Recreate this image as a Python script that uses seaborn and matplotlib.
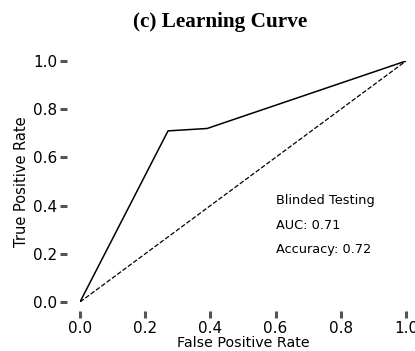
import matplotlib
matplotlib.use("Agg")
import matplotlib.pyplot as plt
import seaborn as sns
import pandas as pd

fpr = [0.0, 0.27, 0.39, 1.0]
tpr = [0.0, 0.71, 0.72, 1.0]
chance = [0.0, 1.0]
ticks = [0.0, 0.2, 0.4, 0.6, 0.8, 1.0]
notes = ["Blinded Testing", "AUC: 0.71", "Accuracy: 0.72"]

sns.set_style("white")
plt.rcParams['font.family'] = ['DejaVu Sans']
plt.rcParams['text.color'] = 'black'
plt.rcParams['axes.labelcolor'] = 'black'
plt.rcParams['xtick.labelcolor'] = 'black'
plt.rcParams['ytick.labelcolor'] = 'black'

fig = plt.figure(figsize=(4.15, 3.51), dpi=100)
ax = fig.add_axes([80 / 415, 1 - 302 / 351, 326 / 415, 241 / 351])

roc = pd.DataFrame({"fpr": fpr, "tpr": tpr})
sns.lineplot(data=roc, x="fpr", y="tpr", color="black", linewidth=1.1, ax=ax)
sns.lineplot(x=chance, y=chance, color="black", linestyle="--", linewidth=0.9, ax=ax)

ax.set_xlim(0, 1)
ax.set_ylim(0, 1)
ax.set_xticks(ticks)
ax.set_yticks(ticks)
ax.set_xticklabels([f"{t:.1f}" for t in ticks])
ax.set_yticklabels([f"{t:.1f}" for t in ticks])
ax.set_xlabel("False Positive Rate", fontsize=10.3, labelpad=0.5)
ax.set_ylabel("True Positive Rate", fontsize=10.5, labelpad=3)

for s in ax.spines.values():
    s.set_visible(False)
ax.spines["left"].set_position(("outward", 9.5))
ax.spines["bottom"].set_position(("outward", 6.5))
ax.tick_params(axis="both", which="major", direction="out", length=5, width=2.2,
               color="#555555", labelsize=11, pad=2, left=True, bottom=True)

for i, t in enumerate(notes):
    ax.text(0.60, 0.42 - i * 0.102, t, fontsize=9.3, va="center", ha="left",
            transform=ax.transData)

fig.text(220 / 415, 1 - 22 / 351, "(c) Learning Curve", ha="center", va="center",
         fontsize=15.3, fontweight="bold", family=["Liberation Serif", "DejaVu Serif"])

fig.savefig("out.png", dpi=100)
